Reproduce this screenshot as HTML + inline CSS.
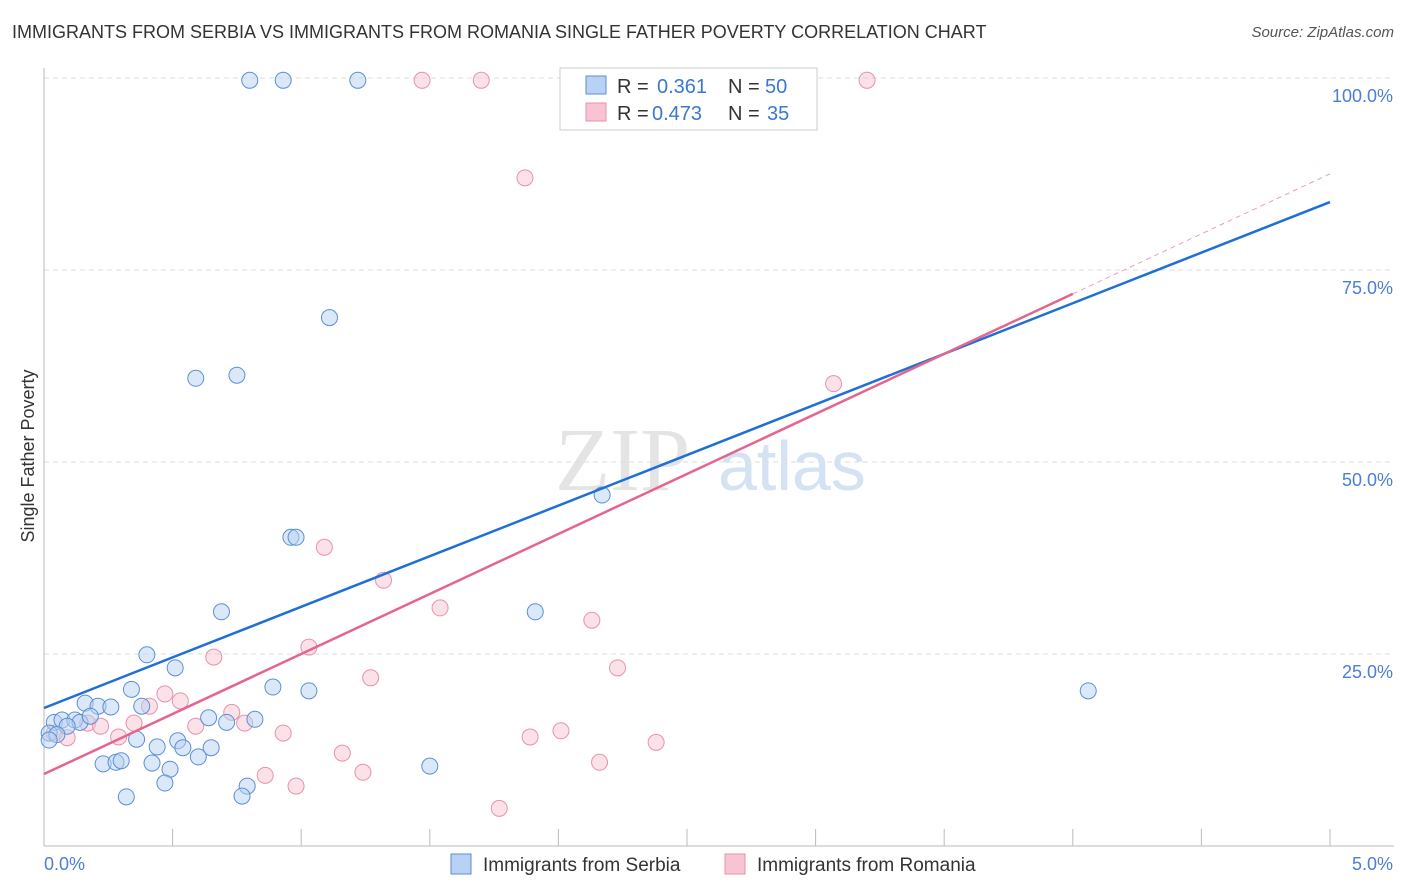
<!DOCTYPE html>
<html><head><meta charset="utf-8"><style>
body{margin:0;background:#fff;font-family:"Liberation Sans",sans-serif}
#t{position:absolute;left:12px;top:22px;font-size:18px;color:#333}
#s{position:absolute;right:12px;top:24px;font-size:15px;color:#555;font-style:italic}
</style></head><body>
<div id="t">IMMIGRANTS FROM SERBIA VS IMMIGRANTS FROM ROMANIA SINGLE FATHER POVERTY CORRELATION CHART</div>
<div id="s">Source: ZipAtlas.com</div>
<svg id="c" width="1406" height="892" style="position:absolute;left:0;top:0"></svg>
<script>
const serbiaX=[0.80,0.93,1.22,2.22,1.11,0.59,0.75,2.17,0.96,0.98,0.69,1.91,4.06,0.40,0.51,0.34,0.89,1.03,0.16,0.21,0.26,0.38,0.64,0.82,0.71,0.04,0.07,0.12,0.14,0.18,0.09,0.02,0.05,0.36,0.44,0.52,0.54,0.65,0.60,0.23,0.28,0.30,0.42,0.49,1.50,0.47,0.79,0.77,0.32,0.02];
const serbiaY=[99.7,99.7,99.7,99.7,68.8,60.9,61.3,45.7,40.2,40.2,30.5,30.5,20.2,24.9,23.2,20.4,20.7,20.2,18.6,18.2,18.1,18.2,16.7,16.5,16.1,16.1,16.4,16.4,16.1,16.9,15.6,14.7,14.5,13.9,12.9,13.7,12.8,12.8,11.6,10.7,10.9,11.1,10.8,10.0,10.4,8.2,7.8,6.5,6.4,13.8];
const romaniaX=[1.47,1.70,3.20,1.87,3.07,1.09,1.32,1.54,2.13,1.03,0.66,2.23,1.27,0.47,0.53,0.41,0.73,0.35,0.78,0.59,0.17,0.22,0.29,0.93,1.89,2.01,2.38,1.16,1.24,0.86,0.98,2.16,1.77,0.04,0.09];
const romaniaY=[99.7,99.7,99.7,87.0,60.2,38.9,34.6,31.0,29.4,25.9,24.6,23.2,21.9,19.8,18.9,18.2,17.4,16.0,16.0,15.6,16.0,15.6,14.2,14.7,14.2,15.0,13.5,12.1,9.6,9.2,7.8,10.9,4.9,14.7,14.1];
const yTicks=[25,50,75,100];
const yTickLabels=["25.0%","50.0%","75.0%","100.0%"];
const serbiaTrend=[17.97,83.85];
const romaniaTrend=[9.37,15.63];
const NS="http://www.w3.org/2000/svg";
const svg=document.getElementById('c');
const X=v=>44+v/5*1286, Y=v=>846-v*7.68;
function mk(t,a,p){const e=document.createElementNS(NS,t);for(const k in a)e.setAttribute(k,a[k]);(p||svg).appendChild(e);return e;}
// watermark
let w=mk('text',{x:555,y:490,'font-size':90,'font-family':'Liberation Serif,serif',fill:'#e4e4e4'});w.textContent='ZIP';


let w2=mk('text',{x:718,y:490,'font-size':70,fill:'#d4e2f4'});w2.textContent='atlas';


// grid
yTicks.forEach((v,i)=>{
 const g=mk('line',{x1:44,x2:1394,y1:Y(v),y2:Y(v),stroke:'#ddd','stroke-dasharray':'5,4'});
 
 
 const t=mk('text',{x:1393,y:Y(v)+24,'text-anchor':'end','font-size':18,fill:'#4a7fd4'});t.textContent=yTickLabels[i];
 
 
});
mk('line',{x1:44,x2:44,y1:68,y2:846,stroke:'#bbb'});
mk('line',{x1:44,x2:1394,y1:846,y2:846,stroke:'#bbb'});
for(let i=0;i<=10;i++){const tk=mk('line',{x1:X(i*0.5),x2:X(i*0.5),y1:829,y2:846,stroke:'#bbb'});
 
 }
let xl=mk('text',{x:44,y:870,'font-size':18,fill:'#4a7fd4'});xl.textContent='0.0%';


let xr=mk('text',{x:1393,y:870,'text-anchor':'end','font-size':18,fill:'#4a7fd4'});xr.textContent='5.0%';


let yt=mk('text',{x:34,y:456,'font-size':18,fill:'#333',transform:'rotate(-90 34 456)','text-anchor':'middle'});yt.textContent='Single Father Poverty';


// points
function pts(xs,ys,fill,stroke,name){xs.forEach((x,i)=>{
 const c=mk('circle',{cx:X(x),cy:Y(ys[i]),r:8,fill:fill,'fill-opacity':0.5,stroke:stroke,'stroke-width':1});
 
 
});}
pts(romaniaX,romaniaY,'#f8c3d2','#e892ab','romania-point');
pts(serbiaX,serbiaY,'#b7d2f2','#5b8fd8','serbia-point');
// trend lines
const bl=mk('line',{x1:X(0),y1:Y(serbiaTrend[0]),x2:X(5),y2:Y(serbiaTrend[1]),stroke:'#1f6fd6','stroke-width':2.5});


const pl=mk('line',{x1:X(0),y1:Y(romaniaTrend[0]),x2:X(4),y2:Y(romaniaTrend[0]+4*romaniaTrend[1]),stroke:'#e4658e','stroke-width':2.5});


const pd=mk('line',{x1:X(4),y1:Y(romaniaTrend[0]+4*romaniaTrend[1]),x2:X(5),y2:Y(romaniaTrend[0]+5*romaniaTrend[1]),stroke:'#e8a0b6','stroke-width':1,'stroke-dasharray':'5,4'});


// legend box
const lg=mk('g',{});


mk('rect',{x:560,y:68,width:257,height:62,fill:'#fff',stroke:'#ccc'},lg);
mk('rect',{x:586,y:76,width:20,height:18,fill:'#b7d2f2',stroke:'#5b8fd8'},lg);
mk('rect',{x:586,y:103,width:20,height:18,fill:'#f8c3d2',stroke:'#e892ab'},lg);
function lt(x,y,s,col){const t=mk('text',{x:x,y:y,'font-size':20,fill:col},lg);t.textContent=s;return t;}
lt(617,93,'R = ','#333');lt(657,93,'0.361','#3a78d0');lt(728,93,'N = ','#333');lt(765,93,'50','#3a78d0');
lt(617,120,'R = ','#333');lt(652,120,'0.473','#3a78d0');lt(728,120,'N = ','#333');lt(767,120,'35','#3a78d0');
// bottom legend
mk('rect',{x:451,y:854,width:20,height:20,fill:'#b7d2f2',stroke:'#5b8fd8'});
let b1=mk('text',{x:483,y:871,'font-size':19,fill:'#333'});b1.textContent='Immigrants from Serbia';


mk('rect',{x:725,y:854,width:20,height:20,fill:'#f8c3d2',stroke:'#e892ab'});
let b2=mk('text',{x:757,y:871,'font-size':19,fill:'#333'});b2.textContent='Immigrants from Romania';


</script>
</body></html>
